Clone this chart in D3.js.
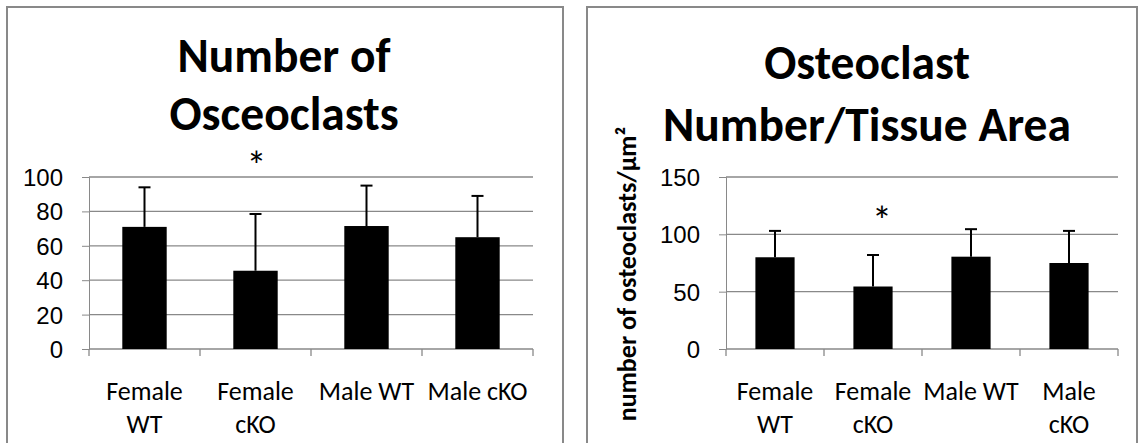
<!DOCTYPE html>
<html>
<head>
<meta charset="utf-8">
<script src="https://cdn.jsdelivr.net/npm/d3@7"></script>
<style>
  body { margin: 0; background: #fff; }
  svg { display: block; font-family: Carlito, Lato, "Open Sans", sans-serif; }
</style>
</head>
<body>
<svg id="chart" width="1148" height="443"></svg>
<script>
// categories shared by both panels
const categories = ["Female WT", "Female cKO", "Male WT", "Male cKO"];

// left panel: number of osteoclasts (mean and upper error)
const countValues = [71, 45.5, 71.5, 65];
const countErrors = [23, 33, 23.5, 24];
const countTicks = [0, 20, 40, 60, 80, 100];
const countLabels = [["Female", "WT"], ["Female", "cKO"], ["Male WT"], ["Male cKO"]];

// right panel: osteoclast number / tissue area
const densityValues = [80, 54.5, 80.5, 75];
const densityErrors = [23, 27.5, 24, 28];
const densityTicks = [0, 50, 100, 150];
const densityLabels = [["Female", "WT"], ["Female", "cKO"], ["Male WT"], ["Male", "cKO"]];

const grey = "#898989";
const svg = d3.select("#chart");

function drawPanel(p) {
  const g = svg.append("g");

  // chart frame (bottom edge falls outside the picture)
  g.append("rect")
    .attr("x", p.frame[0]).attr("y", 7)
    .attr("width", p.frame[1] - p.frame[0]).attr("height", 460)
    .attr("fill", "#fff").attr("stroke", grey).attr("stroke-width", 2);

  const x = d3.scaleBand().domain(categories).range([p.left, p.right]).padding(0);
  const y = d3.scaleLinear().domain([0, d3.max(p.ticks)]).range([349, 177]);

  // gridlines + y axis
  const yAxis = d3.axisLeft(y).tickValues(p.ticks).tickSize(7).tickPadding(19);
  const ya = g.append("g").attr("transform", `translate(${p.left},0)`).call(yAxis);
  ya.select(".domain").attr("stroke", grey);
  ya.selectAll(".tick line").attr("stroke", grey);
  ya.selectAll(".tick text")
    .attr("fill", "#000").attr("font-size", 24).attr("dy", "0.35em");

  g.append("g").selectAll("line").data(p.ticks.filter(t => t > 0)).join("line")
    .attr("x1", p.left).attr("x2", p.right)
    .attr("y1", d => y(d)).attr("y2", d => y(d))
    .attr("stroke", grey).attr("stroke-width", 1.3);

  // x axis with ticks at category boundaries
  g.append("line")
    .attr("x1", p.left).attr("x2", p.right).attr("y1", y(0)).attr("y2", y(0))
    .attr("stroke", grey).attr("stroke-width", 1.3);
  const bounds = categories.map(c => x(c)).concat([p.right]);
  g.append("g").selectAll("line").data(bounds).join("line")
    .attr("x1", d => d).attr("x2", d => d)
    .attr("y1", y(0)).attr("y2", y(0) + 7)
    .attr("stroke", grey).attr("stroke-width", 1.3);

  const bw = x.bandwidth() * 0.4;
  const cx = c => x(c) + x.bandwidth() / 2;

  // bars
  g.append("g").selectAll("rect").data(categories).join("rect")
    .attr("x", c => cx(c) - bw / 2)
    .attr("width", bw)
    .attr("y", (c, i) => y(p.values[i]))
    .attr("height", (c, i) => y(0) - y(p.values[i]))
    .attr("fill", "#000");

  // error bars (plus direction only)
  const eb = g.append("g").attr("stroke", "#000").attr("stroke-width", 2);
  eb.selectAll(".v").data(categories).join("line").attr("class", "v")
    .attr("x1", cx).attr("x2", cx)
    .attr("y1", (c, i) => y(p.values[i]))
    .attr("y2", (c, i) => y(p.values[i] + p.errors[i]));
  eb.selectAll(".cap").data(categories).join("line").attr("class", "cap")
    .attr("x1", c => cx(c) - 6).attr("x2", c => cx(c) + 6)
    .attr("y1", (c, i) => y(p.values[i] + p.errors[i]))
    .attr("y2", (c, i) => y(p.values[i] + p.errors[i]));

  // category labels
  const lab = g.append("g").selectAll("text").data(categories).join("text")
    .attr("text-anchor", "middle").attr("font-size", 26).attr("fill", "#000");
  lab.each(function (c, i) {
    d3.select(this).selectAll("tspan").data(p.labels[i]).join("tspan")
      .attr("x", cx(c))
      .attr("y", (d, j) => y(0) + 51 + j * 33)
      .text(d => d);
  });

  // significance star
  g.append("text")
    .attr("x", cx(p.star) + p.starDx).attr("y", y(p.starY))
    .attr("dy", "0.6em")
    .attr("text-anchor", "middle").attr("font-size", 40).text("*");

  // title
  g.append("text").attr("text-anchor", "middle")
    .attr("font-weight", "bold").attr("font-size", 47.5).attr("fill", "#000")
    .selectAll("tspan").data(p.title).join("tspan")
    .attr("x", p.titleX).attr("y", (d, j) => p.titleY[j]).text(d => d);

  if (p.yTitle) {
    g.append("text")
      .attr("transform", `translate(${p.left - 90},274) rotate(-90)`)
      .attr("text-anchor", "middle").attr("font-weight", "bold")
      .attr("font-size", 26).attr("fill", "#000")
      .text(p.yTitle);
  }
}

drawPanel({
  frame: [7, 563], left: 89, right: 533,
  values: countValues, errors: countErrors, ticks: countTicks, labels: countLabels,
  star: "Female cKO", starY: 112, starDx: 1,
  title: ["Number of", "Osceoclasts"], titleX: 284, titleY: [72, 130]
});

drawPanel({
  frame: [587, 1137], left: 726, right: 1118,
  values: densityValues, errors: densityErrors, ticks: densityTicks, labels: densityLabels,
  star: "Female cKO", starY: 120, starDx: 9,
  title: ["Osteoclast", "Number/Tissue Area"], titleX: 867, titleY: [79, 141],
  yTitle: "number of osteoclasts/µm²"
});
</script>
</body>
</html>
